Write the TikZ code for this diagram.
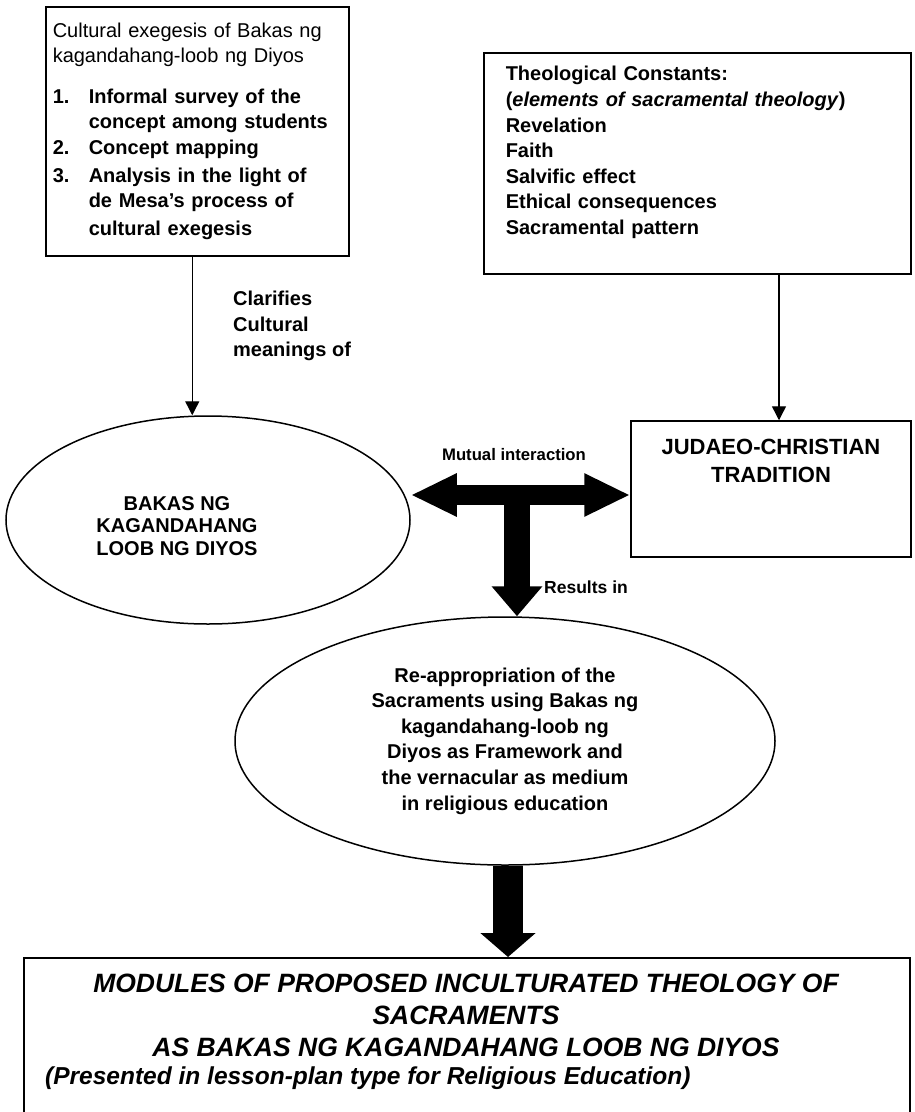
\documentclass[tikz,border=0pt]{standalone}
\usepackage{fontspec}
\setmainfont{Liberation Sans}
\usetikzlibrary{shapes.geometric,arrows.meta}

\begin{document}
\begin{tikzpicture}[x=1pt, y=-1pt,
  box/.style={draw, line width=1.5pt},
  bubble/.style={draw, ellipse, line width=1.5pt, inner sep=0pt},
  link/.style={line width=1.4pt, -{Triangle[width=14pt,length=14pt]}},
  lbl/.style={inner sep=0pt, font=\fontsize{20}{25.6}\selectfont\bfseries}]
  \useasboundingbox (0,0) rectangle (914,1112);

  % the two source boxes on top
  \node[box, anchor=north west, minimum height=249pt, text width=289pt, inner xsep=7pt,
        inner ysep=0pt, align=left, font=\fontsize{20}{25.2}\selectfont] (exegesis) at (45,6) {%
    Cultural exegesis of Bakas ng\\
    kagandahang-loob ng Diyos\\[16pt]
    \textbf{\makebox[36pt][l]{1.}Informal survey of the}\\
    \textbf{\hspace*{36pt}concept among students}\\[1pt]
    \textbf{\makebox[36pt][l]{2.}Concept mapping}\\[2pt]
    \textbf{\makebox[36pt][l]{3.}Analysis in the light of}\\
    \textbf{\hspace*{36pt}de Mesa’s process of}\\[3pt]
    \textbf{\hspace*{36pt}cultural exegesis}};
  \node[box, lbl, anchor=north west, minimum height=221pt, text width=383pt, inner xsep=22pt,
        inner ysep=0pt, align=left] (constants) at (483,52) {%
    Theological Constants:\\
    (\textit{elements of sacramental theology})\\
    Revelation\\
    Faith\\
    Salvific effect\\
    Ethical consequences\\
    Sacramental pattern\\
    \mbox{}};

  \node[bubble, minimum width=404pt, minimum height=208pt] (bakas) at (208,520) {};
  \node[align=center, inner sep=0pt, font=\fontsize{20}{22.5}\selectfont\bfseries]
    (bakastext) at (177,526) {BAKAS NG\\KAGANDAHANG\\LOOB NG DIYOS};
  \node[box, minimum width=280pt, minimum height=136pt, inner sep=0pt, align=center,
        font=\fontsize{22}{28}\selectfont\bfseries] (tradition) at (771,489)
    {JUDAEO-CHRISTIAN\\TRADITION\\\mbox{}\\\mbox{}};
  \node[bubble, lbl, minimum width=540pt, minimum height=248pt, align=center] (reapp) at (505,741) {%
    Re-appropriation of the\\
    Sacraments using Bakas ng\\
    kagandahang-loob ng\\
    Diyos as Framework and\\
    the vernacular as medium\\
    in religious education};
  \node[box, anchor=north west, minimum width=886pt, minimum height=170pt] (modules) at (23,957) {};
  \node[align=center, inner sep=0pt, font=\fontsize{26.5}{32}\selectfont\bfseries\itshape]
    (modtitle) at (466,1015) {MODULES OF PROPOSED INCULTURATED THEOLOGY OF\\
    SACRAMENTS\\AS BAKAS NG KAGANDAHANG LOOB NG DIYOS};
  \node[anchor=west, inner sep=0pt, font=\fontsize{24.5}{30}\selectfont\bfseries\itshape]
    (presented) at (45,1078) {(Presented in lesson-plan type for Religious Education)};

  % thin connectors
  \draw[link] ([xshift=-5pt]exegesis.south) -- ([xshift=-5pt]exegesis.south |- bakas.north);
  \node[lbl, anchor=west, align=left] (clarifies) at (233,326) {Clarifies\\Cultural\\meanings of};
  \draw[link] ([xshift=8pt]tradition.north |- constants.south) -- ([xshift=8pt]tradition.north);

  % block arrows
  \coordinate (hub) at (517,495);
  \draw[line width=20pt, {Triangle[width=40pt,length=46pt]}-{Triangle[width=40pt,length=46pt]}]
    (hub -| bakas.east) -- (hub -| tradition.west);
  \node[inner sep=0pt, font=\fontsize{16.7}{20}\selectfont\bfseries] (mutual) at (514,455) {Mutual interaction};
  \draw[line width=26pt, -{Triangle[width=49pt,length=30pt]}] (hub) -- (hub |- reapp.north);
  \node[anchor=west, inner sep=0pt, font=\fontsize{17.5}{20}\selectfont\bfseries] (results) at (544,587) {Results in};
  \draw[line width=30pt, -{Triangle[width=54pt,length=24pt]}]
    ([xshift=3pt]reapp.south) -- ([xshift=3pt]reapp.south |- modules.north);
\end{tikzpicture}
\end{document}
